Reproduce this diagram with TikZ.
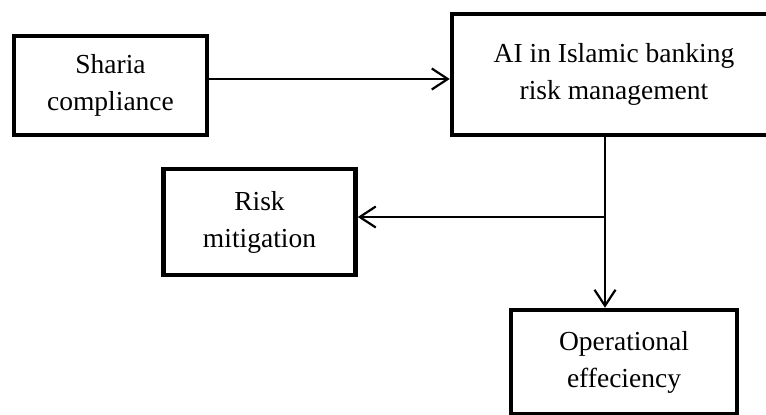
\documentclass[tikz,border=0pt]{standalone}
\usepackage{fontspec}
\setmainfont{Liberation Serif}
\usetikzlibrary{arrows.meta}
\tikzset{
  boxnode/.style={draw, line width=4.5pt, inner sep=0pt, align=center,
    font=\fontsize{27.5}{37}\selectfont},
  conn/.style={line width=2.2pt, -{Straight Barb[length=16pt,width=21pt,line width=2.2pt]}},
  plainline/.style={line width=2.2pt}
}
\begin{document}
\begin{tikzpicture}[x=1pt,y=-1pt]
\useasboundingbox (0,0) rectangle (766,415);
\clip (0,0) rectangle (766,415);
\node[boxnode, minimum width=193pt, minimum height=99pt] (S) at (110.5,85.5) {Sharia\\compliance};
\node[boxnode, minimum width=324pt, minimum height=121pt] (A) at (614,74.5) {AI in Islamic banking\\risk management};
\node[boxnode, minimum width=192pt, minimum height=106pt] (R) at (259.5,222) {Risk\\mitigation};
\node[boxnode, minimum width=226pt, minimum height=104pt] (O) at (624,362) {Operational\\effeciency};
\coordinate (j) at (605,217);
\draw[conn] ([yshift=6.5pt]S.east) -- ([yshift=6.5pt]S.east -| A.west);
\draw[plainline] (A.south -| j) -- (j);
\draw[conn] (j) -- (j |- O.north);
\draw[conn] (j) -- (j -| R.east);
\end{tikzpicture}
\end{document}
